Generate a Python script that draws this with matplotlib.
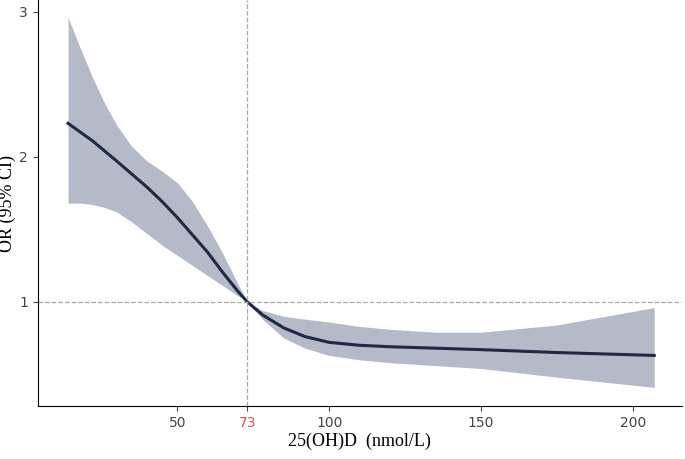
import matplotlib.pyplot as plt

x = [14, 18, 22, 26, 30, 35, 40, 45, 50, 55, 60, 65, 70, 73, 78, 85, 92, 100, 110, 120, 135, 150, 175, 207]
or_fit = [2.23, 2.17, 2.11, 2.04, 1.97, 1.88, 1.79, 1.69, 1.58, 1.46, 1.34, 1.20, 1.07, 1.00, 0.91, 0.82, 0.76, 0.72, 0.70, 0.69, 0.68, 0.67, 0.65, 0.63]
ci_upper = [2.96, 2.75, 2.55, 2.37, 2.22, 2.07, 1.97, 1.90, 1.82, 1.69, 1.52, 1.33, 1.12, 1.00, 0.94, 0.90, 0.88, 0.86, 0.83, 0.81, 0.79, 0.79, 0.84, 0.96]
ci_lower = [1.68, 1.68, 1.67, 1.65, 1.62, 1.55, 1.47, 1.39, 1.32, 1.25, 1.18, 1.11, 1.04, 1.00, 0.88, 0.75, 0.68, 0.63, 0.60, 0.58, 0.56, 0.54, 0.48, 0.41]
xticks = [50, 73, 100, 150, 200]
yticks = [1, 2, 3]

fig = plt.figure(figsize=(6.85, 4.59), dpi=100)
ax = fig.add_axes([0.055, 0.115, 0.94, 0.885])

ax.fill_between(x, ci_lower, ci_upper, color="#b4bac8", lw=0)
ax.plot(x, or_fit, color="#1e2a44", lw=2.2)
ax.axvline(73, color="#aaaaaa", ls="--", lw=0.9)
ax.axhline(1, color="#aaaaaa", ls="--", lw=0.9)

ax.set_xlim(4, 216)
ax.set_ylim(0.28, 3.08)
ax.set_xticks(xticks)
ax.set_xticklabels([str(t) for t in xticks])
ax.set_yticks(yticks)
for s in ["top", "right"]:
    ax.spines[s].set_visible(False)
ax.tick_params(colors="#444444", labelsize=10)
ax.get_xticklabels()[1].set_color("#e05050")

ax.set_xlabel("25(OH)D  (nmol/L)", family="Liberation Serif", fontsize=13, labelpad=2)
ax.set_ylabel("OR (95% CI)", family="Liberation Serif", fontsize=13, labelpad=2)

fig.savefig("out.png")
